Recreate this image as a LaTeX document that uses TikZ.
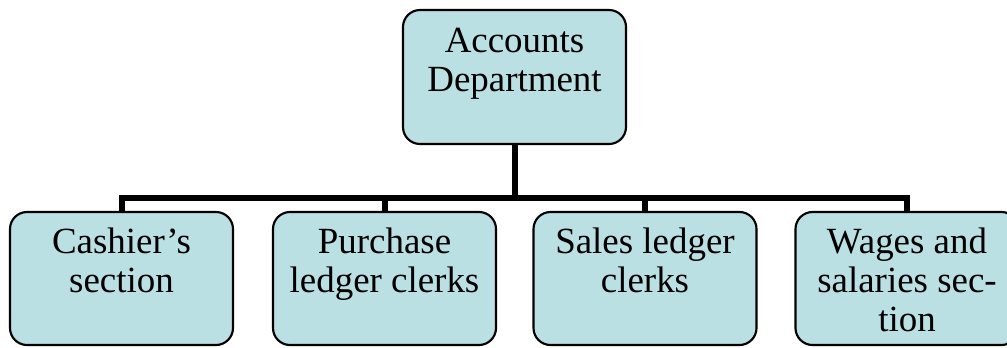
\documentclass[tikz,border=0pt]{standalone}
\usepackage{fontspec}
\setmainfont{Liberation Serif}
\definecolor{boxfill}{RGB}{187,224,227}
\tikzset{
  orgbox/.style={draw=black, line width=1.6pt, fill=boxfill, rounded corners=12.75pt,
    inner sep=0pt, outer sep=0pt},
  conn/.style={draw=black, line width=4.5pt, line join=miter, line cap=butt},
}
\newcommand{\boxtext}[3]{\parbox[c][#1][t]{167.25pt}{\centering\fontsize{27.7}{29.5}\selectfont\rule{0pt}{#2}#3}}
\begin{document}
\begin{tikzpicture}[x=0.75pt,y=-0.75pt]
\useasboundingbox (0,0) rectangle (1007,347);
\clip (0,0) rectangle (1007,347);
\node[orgbox] (top) at (514.5,77) {\boxtext{100.5pt}{31.5pt}{Accounts\\Department}};
\node[orgbox] (c1) at (121.5,278.5) {\boxtext{99.75pt}{30.75pt}{Cashier’s\\section}};
\node[orgbox] (c2) at (384.5,278.5) {\boxtext{99.75pt}{30.75pt}{Purchase\\ledger clerks}};
\node[orgbox] (c3) at (645,278.5) {\boxtext{99.75pt}{30.75pt}{Sales ledger\\clerks}};
\node[orgbox] (c4) at (907,278.5) {\boxtext{99.75pt}{30.75pt}{Wages and\\salaries sec-\\tion}};
\coordinate (bus) at (514.5,198);
\draw[conn] (top.south) -- (top.south |- bus);
\draw[conn] (c1.north) -- (c1.north |- bus) -- (c4.north |- bus) -- (c4.north);
\draw[conn] (c2.north) -- (c2.north |- bus);
\draw[conn] (c3.north) -- (c3.north |- bus);
\end{tikzpicture}
\end{document}
